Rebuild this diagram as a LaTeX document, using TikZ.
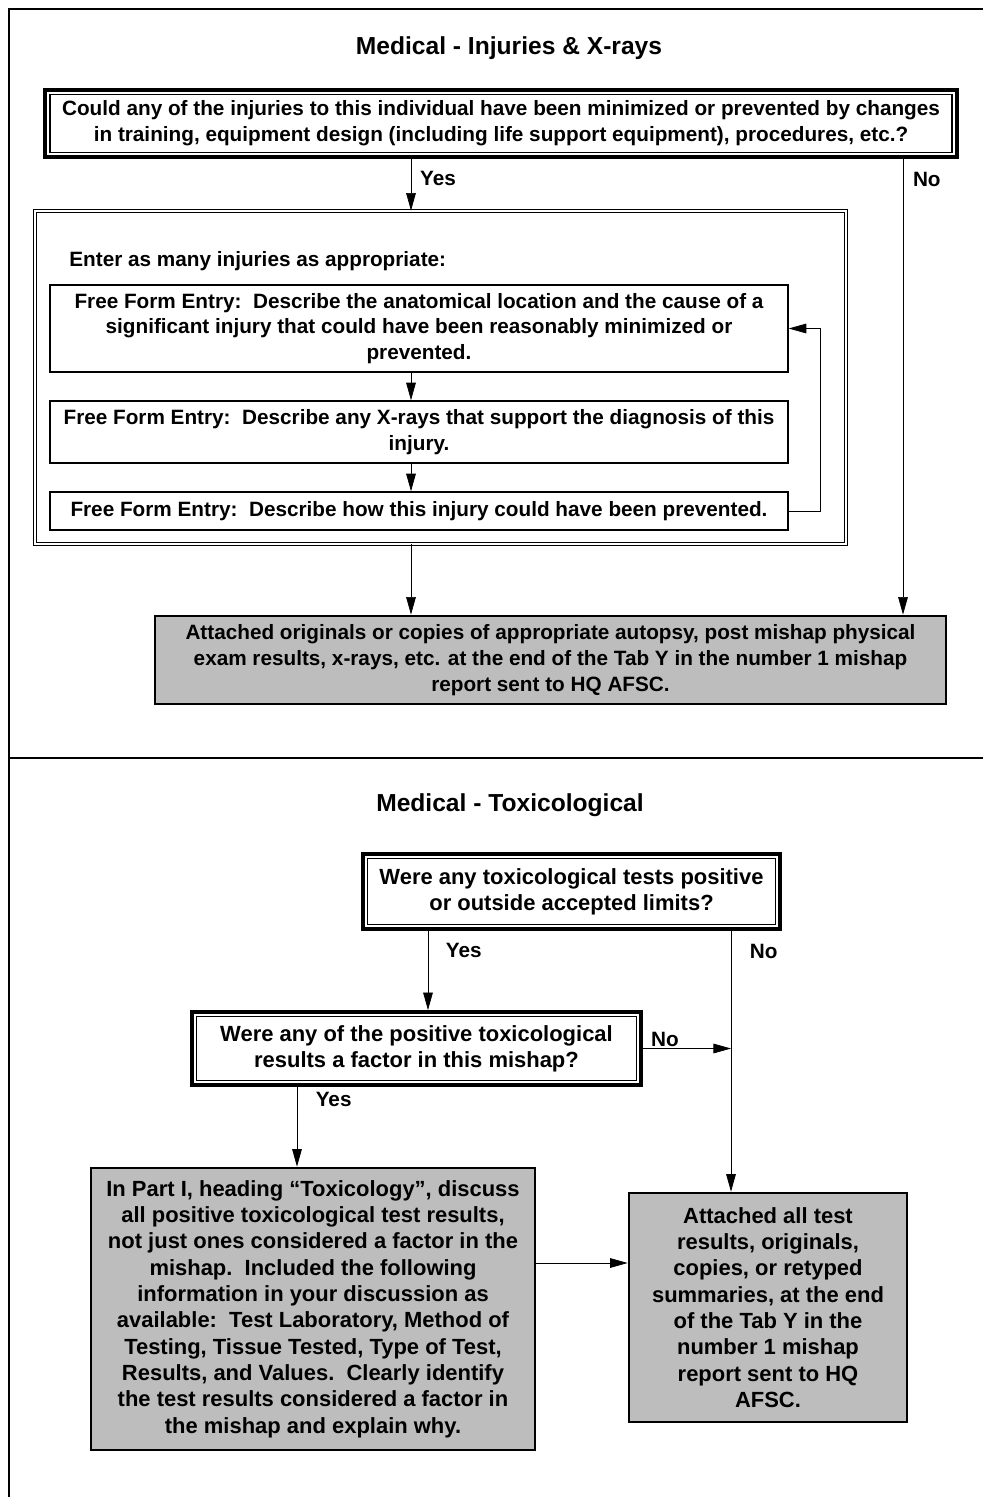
\documentclass[tikz,border=0pt]{standalone}
\usepackage{fontspec}
\setmainfont{Liberation Sans}
\usetikzlibrary{arrows.meta}

\begin{document}
\begin{tikzpicture}[x=0.02cm,y=-0.02cm,
  >={Triangle[length=10pt,width=5.5pt]},
  every node/.style={font=\bfseries\fontsize{11.8}{14.6}\selectfont,align=center,inner sep=0pt},
  big text/.style={font=\bfseries\fontsize{12.5}{15}\selectfont},
  title text/.style={font=\bfseries\fontsize{14}{17}\selectfont},
  question node/.style={rectangle,draw,line width=2.2pt,
    path picture={\draw[line width=0.6pt]
      ([shift={(2.8pt,2.8pt)}]path picture bounding box.south west) rectangle
      ([shift={(-2.8pt,-2.8pt)}]path picture bounding box.north east);}},
  group node/.style={rectangle,draw,line width=0.5pt,double,double distance=1.4pt},
  entry node/.style={rectangle,draw,line width=0.9pt},
  result node/.style={rectangle,draw,line width=1.6pt,fill=black!26}]

  \useasboundingbox (0,0) rectangle (983,1497);

  % frame
  \draw[line width=0.9pt] (983,9) -- (9,9) -- (9,1497);
  \draw[line width=1.6pt] (9,758) -- (983,758);

  % injuries and x-rays
  \node[title text] (title1) at (509,48) {Medical - Injuries \& X-rays};
  \node[question node,minimum width=18.24cm,minimum height=1.34cm] (q1) at (501,123.5)
    {Could any of the injuries to this individual have been minimized or prevented by changes\\
     in training, equipment design (including life support equipment), procedures, etc.?};
  \node[group node,minimum width=16.22cm,minimum height=6.66cm] (enter) at (440.5,377.5) {};
  \node[anchor=west] (enterlbl) at (69,261) {Enter as many injuries as appropriate:};
  \node[entry node,minimum width=14.76cm,minimum height=1.74cm] (cause) at (419,328.5)
    {Free Form Entry:\ \ Describe the anatomical location and the cause of a\\
     significant injury that could have been reasonably minimized or\\ prevented.};
  \node[entry node,minimum width=14.76cm,minimum height=1.24cm] (xray) at (419,432)
    {Free Form Entry:\ \ Describe any X-rays that support the diagnosis of this\\ injury.};
  \node[entry node,minimum width=14.76cm,minimum height=0.76cm] (prevent) at (419,511)
    {Free Form Entry:\ \ Describe how this injury could have been prevented.};
  \node[result node,minimum width=15.82cm,minimum height=1.76cm] (attach) at (550.5,660)
    {Attached originals or copies of appropriate autopsy, post mishap physical\\
     exam results, x-rays, etc. at the end of the Tab Y in the number 1 mishap\\
     report sent to HQ AFSC.};

  \coordinate (mainx) at (411,0);
  \coordinate (nox) at (903,0);
  \coordinate (loopx) at (820,0);

  \draw[->] (q1.south -| mainx) -- node[right=5pt,pos=0.37]{Yes} (enter.north -| mainx);
  \draw[->] (q1.south -| nox) -- node[right=5.5pt,pos=0.044]{No} (attach.north -| nox);
  \draw[->] (cause.south -| mainx) -- (xray.north -| mainx);
  \draw[->] (xray.south -| mainx) -- (prevent.north -| mainx);
  \draw[->] (prevent.east) -- (prevent.east -| loopx) |- (cause.east);
  \draw[->] (enter.south -| mainx) -- (attach.north -| mainx);

  % toxicological
  \node[title text] (title2) at (510,805) {Medical - Toxicological};
  \node[question node,big text,minimum width=8.34cm,minimum height=1.5cm] (q2) at (571.5,891.5)
    {Were any toxicological tests positive\\ or outside accepted limits?};
  \node[question node,big text,minimum width=8.98cm,minimum height=1.46cm] (q3) at (416.5,1048.5)
    {Were any of the positive toxicological\\ results a factor in this mishap?};
  \node[result node,big text,minimum width=8.88cm,minimum height=5.64cm] (discuss) at (313,1309)
    {In Part I, heading “Toxicology”, discuss\\ all positive toxicological test results,\\
     not just ones considered a factor in the\\ mishap.\ \ Included the following\\
     information in your discussion as\\ available:\ \ Test Laboratory, Method of\\
     Testing, Tissue Tested, Type of Test,\\ Results, and Values.\ \ Clearly identify\\
     the test results considered a factor in\\ the mishap and explain why.};
  \node[result node,big text,minimum width=5.56cm,minimum height=4.58cm] (attachall) at (768,1307.5)
    {Attached all test\\ results, originals,\\ copies, or retyped\\ summaries, at the end\\
     of the Tab Y in the\\ number 1 mishap\\ report sent to HQ\\ AFSC.};

  \coordinate (yesx) at (428,0);
  \coordinate (nox2) at (731,0);
  \coordinate (yesx3) at (297,0);
  \coordinate (linky) at (0,1263);

  \draw[->] (q2.south -| yesx) -- node[right=10pt,pos=0.25]{Yes} (q3.north -| yesx);
  \draw[->] (q2.south -| nox2) -- node[right=10.5pt,pos=0.08]{No} (attachall.north -| nox2);
  \draw[->] (q3.east) -- node[above=1pt,pos=0.25]{No} (q3.east -| nox2);
  \draw[->] (q3.south -| yesx3) -- node[right=10.5pt,pos=0.16]{Yes} (discuss.north -| yesx3);
  \draw[->] (discuss.east |- linky) -- (attachall.west |- linky);
\end{tikzpicture}
\end{document}
